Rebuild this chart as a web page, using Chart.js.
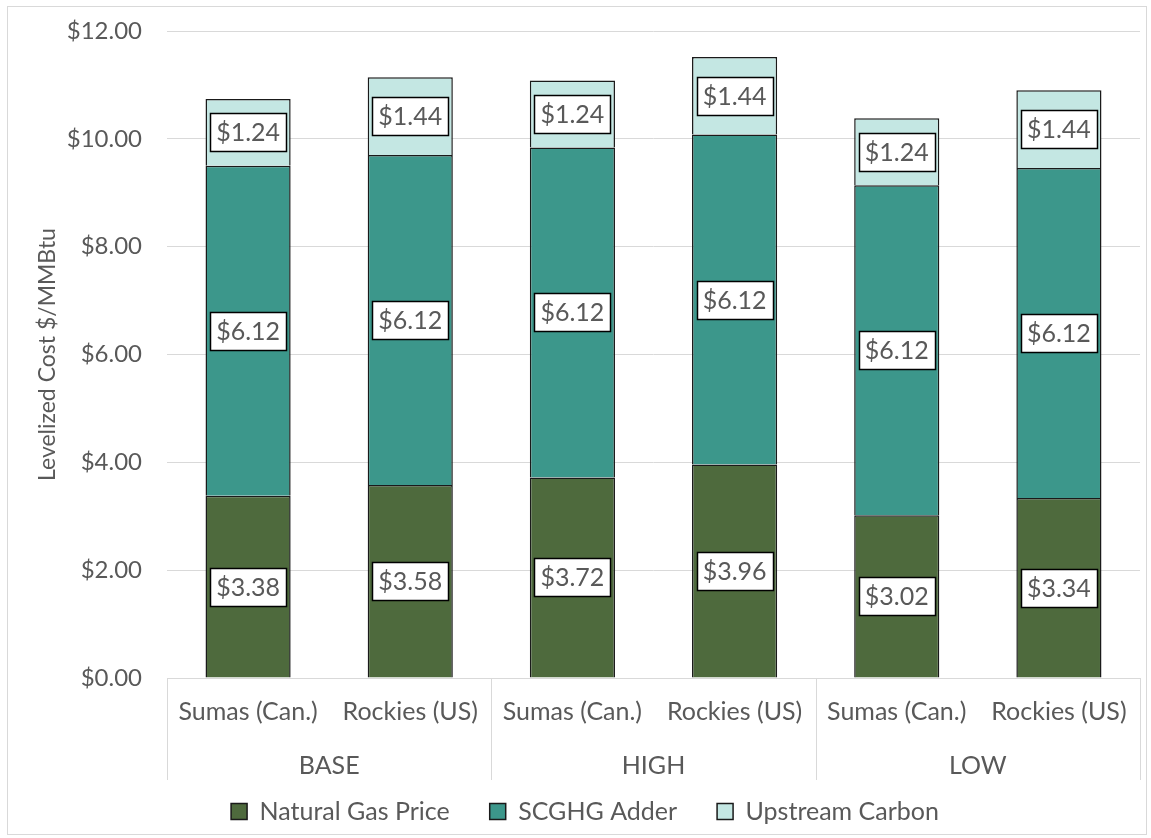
<!DOCTYPE html>
<html>
<head>
<meta charset="utf-8">
<script src="https://cdn.jsdelivr.net/npm/chart.js@4.4.0/dist/chart.umd.min.js"></script>
<style>
    body { margin: 0; background: #fff; }
    #wrap { width: 1151px; height: 838px; position: relative; }
</style>
</head>
<body>
<div id="wrap"><canvas id="cost-graph"></canvas></div>
<script>
var hubs = ['Sumas (Can.)', 'Rockies (US)', 'Sumas (Can.)', 'Rockies (US)', 'Sumas (Can.)', 'Rockies (US)'];
var scenarios = ['BASE', 'HIGH', 'LOW'];
var gasPrice = [3.38, 3.58, 3.72, 3.96, 3.02, 3.34];
var scghgAdder = [6.12, 6.12, 6.12, 6.12, 6.12, 6.12];
var upstreamCarbon = [1.24, 1.44, 1.24, 1.44, 1.24, 1.44];

var fontName = 'Lato, "Open Sans", sans-serif';
var textGrey = '#595959';

// white boxed value labels in the middle of each segment
var boxLabels = {
    id: 'boxLabels',
    afterDatasetsDraw: function(chart) {
        var ctx = chart.ctx;
        ctx.save();
        ctx.font = '25px ' + fontName;
        ctx.textAlign = 'center';
        ctx.textBaseline = 'middle';
        chart.data.datasets.forEach(function(ds, i) {
            var meta = chart.getDatasetMeta(i);
            meta.data.forEach(function(bar, j) {
                var p = bar.getProps(['x', 'y', 'base'], true);
                var cy = Math.round((p.y + p.base) / 2);
                var txt = '$' + ds.data[j].toFixed(2);
                var w = Math.round(ctx.measureText(txt).width + 12);
                var h = 38;
                var bx = Math.round(p.x - w / 2) + 0.5;
                var by = cy - h / 2 + 0.5;
                ctx.fillStyle = '#fff';
                ctx.fillRect(bx, by, w, h);
                ctx.strokeStyle = '#000';
                ctx.lineWidth = 1.5;
                ctx.strokeRect(bx, by, w, h);
                ctx.fillStyle = textGrey;
                ctx.fillText(txt, p.x, cy + 1);
            });
        });
        ctx.restore();
    }
};

// group separators under the category axis + outer frame
var groupLines = {
    id: 'groupLines',
    afterLayout: function(chart) {
        // let the scenario labels hang below their shrunken box without clipping
        chart.scales.x2.bottom = chart.scales.x2.top + 60;
    },
    afterDraw: function(chart) {
        var ctx = chart.ctx;
        var x = chart.scales.x;
        var area = chart.chartArea;
        ctx.save();
        ctx.strokeStyle = '#d9d9d9';
        ctx.lineWidth = 1;
        var edges = [-0.5, 1.5, 3.5, 5.5];
        edges.forEach(function(e) {
            var px;
            if (e < 0) px = x.left;
            else if (e > 5) px = x.right;
            else px = (x.getPixelForValue(Math.floor(e)) + x.getPixelForValue(Math.ceil(e))) / 2;
            px = Math.round(px) + 0.5;
            ctx.beginPath();
            ctx.moveTo(px, area.bottom);
            ctx.lineTo(px, area.bottom + 102);
            ctx.stroke();
        });
        ctx.strokeRect(7.5, 6.5, 1139, 828);
        ctx.restore();
    }
};

var ctx = document.getElementById('cost-graph').getContext('2d');
var cost_graph = new Chart(ctx, {
    type: 'bar',
    data: {
        labels: hubs,
        datasets: [{
            label: 'Natural Gas Price',
            data: gasPrice,
            backgroundColor: '#4e6a3d',
            borderColor: '#1a1a1a',
            borderWidth: 1.5
        }, {
            label: 'SCGHG Adder',
            data: scghgAdder,
            backgroundColor: '#3c978b',
            borderColor: '#1a1a1a',
            borderWidth: 1.5
        }, {
            label: 'Upstream Carbon',
            data: upstreamCarbon,
            backgroundColor: '#c4e7e3',
            borderColor: '#1a1a1a',
            borderWidth: 1.5
        }]
    },
    options: {
        responsive: true,
        maintainAspectRatio: false,
        animation: false,
        datasets: {
            bar: { barPercentage: 0.525, categoryPercentage: 1 }
        },
        layout: {
            padding: { left: 30, right: 11, top: 0, bottom: 4 }
        },
        scales: {
            x: {
                stacked: true,
                grid: { display: false, drawTicks: false },
                border: { color: '#d9d9d9' },
                ticks: {
                    color: textGrey,
                    font: { family: fontName, size: 25 },
                    padding: 19,
                    maxRotation: 0
                }
            },
            x2: {
                type: 'category',
                labels: scenarios,
                position: 'bottom',
                grid: { display: false, drawTicks: false },
                border: { display: false },
                ticks: {
                    color: textGrey,
                    font: { family: fontName, size: 25 },
                    padding: 5
                },
                afterFit: function(scale) { scale.height = 13; }
            },
            y: {
                stacked: true,
                min: 0,
                max: 12,
                grid: { color: '#d9d9d9', drawTicks: false },
                border: { display: false },
                ticks: {
                    stepSize: 2,
                    color: textGrey,
                    padding: 25,
                    font: { family: fontName, size: 24 },
                    callback: function(v) { return '$' + v.toFixed(2); }
                },
                title: {
                    display: true,
                    text: 'Levelized Cost $/MMBtu',
                    color: textGrey,
                    font: { family: fontName, size: 23 },
                    padding: 4
                },
                afterFit: function(scale) {
                    scale.width = 137;
                    scale.paddingTop = 31;
                }
            }
        },
        plugins: {
            legend: {
                position: 'bottom',
                labels: {
                    color: textGrey,
                    font: { family: fontName, size: 25 },
                    boxWidth: 16,
                    boxHeight: 16,
                    padding: 40
                }
            },
            tooltip: { enabled: false }
        }
    },
    plugins: [boxLabels, groupLines]
});
</script>
</body>
</html>
